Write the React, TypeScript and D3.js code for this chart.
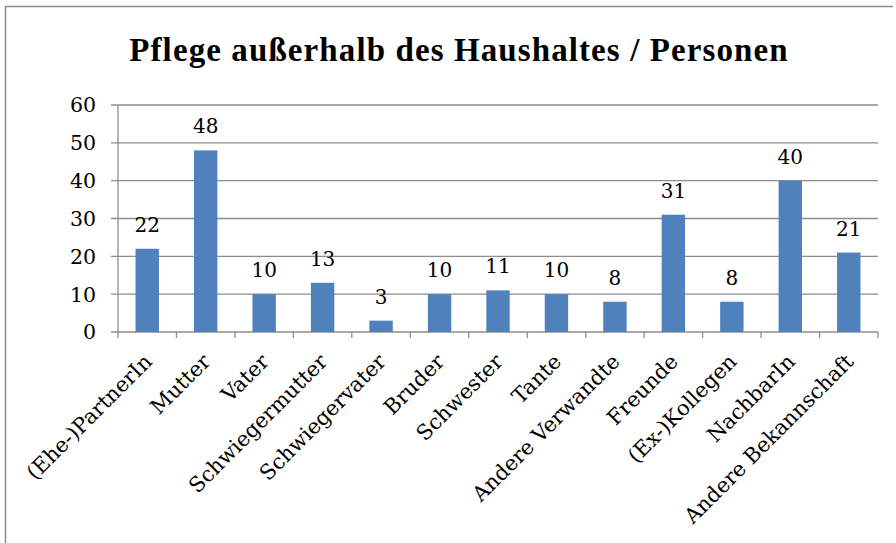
import React from "react";
import * as d3 from "d3";

const categories = [
  "(Ehe-)PartnerIn",
  "Mutter",
  "Vater",
  "Schwiegermutter",
  "Schwiegervater",
  "Bruder",
  "Schwester",
  "Tante",
  "Andere Verwandte",
  "Freunde",
  "(Ex-)Kollegen",
  "NachbarIn",
  "Andere Bekannschaft",
];
const values = [22, 48, 10, 13, 3, 10, 11, 10, 8, 31, 8, 40, 21];
const yTicks = [0, 10, 20, 30, 40, 50, 60];
const title = "Pflege außerhalb des Haushaltes / Personen";

const W = 896;
const H = 543;
const left = 118;
const right = 878;
const top = 105;
const bottom = 332;
const labelFont = "'DejaVu Serif', serif";
const gridColor = "#8c8c8c";

export default function App() {
  const x = d3.scaleBand<string>().domain(categories).range([left, right]).paddingInner(0).paddingOuter(0);
  const y = d3.scaleLinear().domain([0, 60]).range([bottom, top]);
  const bw = x.bandwidth();
  const barW = bw * 0.4;
  const boundaries = d3.range(categories.length + 1).map((i) => left + i * bw);

  return (
    <svg width={W} height={H} style={{ position: "absolute", left: 0, top: 0, background: "#fff" }}>
      <line x1={5.5} y1={6} x2={5.5} y2={H} stroke="#8a8a8a" strokeWidth={1.5} />
      <line x1={5} y1={6.5} x2={893} y2={6.5} stroke="#8a8a8a" strokeWidth={1.5} />
      <text
        x={459}
        y={61}
        textAnchor="middle"
        fontFamily="'Liberation Serif', serif"
        fontWeight="bold"
        fontSize={33}
        letterSpacing={1.1}
        fill="#000"
      >
        {title}
      </text>
      {yTicks.map((t) => (
        <g key={t}>
          <line x1={left - 7} x2={right} y1={y(t)} y2={y(t)} stroke={gridColor} strokeWidth={1.3} />
          <text
            x={96}
            y={y(t)}
            dy="0.36em"
            textAnchor="end"
            fontFamily={labelFont}
            fontSize={20.5}
            fill="#000"
          >
            {t}
          </text>
        </g>
      ))}
      <line x1={left} x2={left} y1={top} y2={bottom} stroke={gridColor} strokeWidth={1.3} />
      {boundaries.map((b, i) => (
        <line key={i} x1={b} x2={b} y1={bottom} y2={bottom + 6} stroke={gridColor} strokeWidth={1.3} />
      ))}
      {categories.map((c, i) => {
        const cx = (x(c) as number) + bw / 2;
        return (
          <g key={c}>
            <rect x={cx - barW / 2} y={y(values[i])} width={barW} height={bottom - y(values[i])} fill="#4F81BD" />
            <text
              x={cx}
              y={y(values[i]) - 17}
              textAnchor="middle"
              fontFamily={labelFont}
              fontSize={20}
              fill="#000"
            >
              {values[i]}
            </text>
            <text
              transform={`translate(${cx + 6},${bottom + 31}) rotate(-45)`}
              textAnchor="end"
              fontFamily={labelFont}
              fontSize={21}
              fill="#000"
            >
              {c}
            </text>
          </g>
        );
      })}
    </svg>
  );
}
